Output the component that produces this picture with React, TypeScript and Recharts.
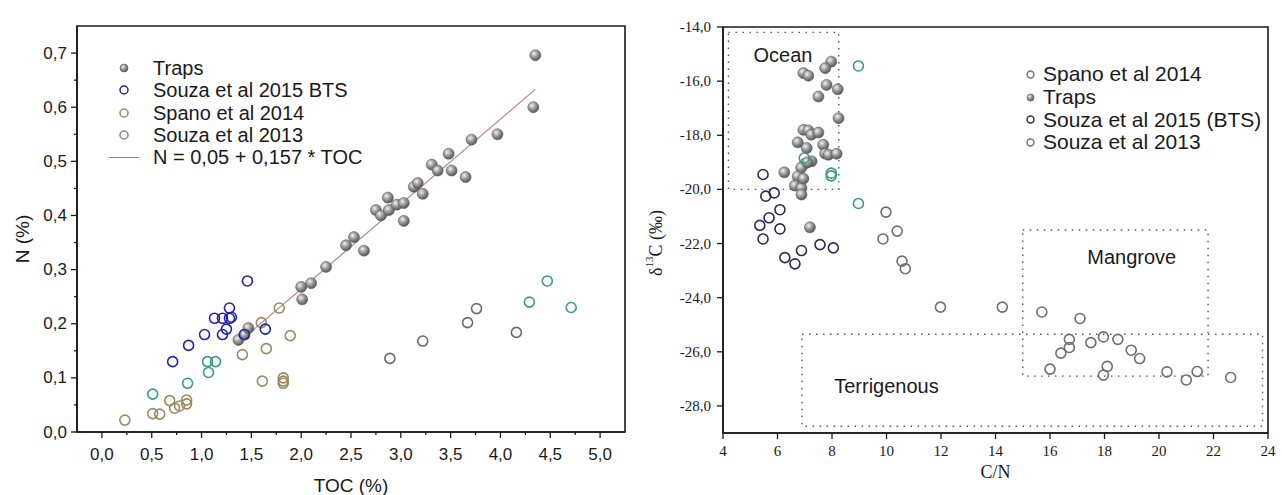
import React from "react";
import { ScatterChart, Scatter, XAxis, YAxis, ReferenceArea, Label } from "recharts";

// ---- left panel: N vs TOC ----
const tocMajor = [0, 0.5, 1, 1.5, 2, 2.5, 3, 3.5, 4, 4.5, 5];
const tocMinor = [0.25, 0.75, 1.25, 1.75, 2.25, 2.75, 3.25, 3.75, 4.25, 4.75];
const nMajor = [0, 0.1, 0.2, 0.3, 0.4, 0.5, 0.6, 0.7];
const nMinor = [0.05, 0.15, 0.25, 0.35, 0.45, 0.55, 0.65];

const trapsTocN = [
  [1.37, 0.17], [1.43, 0.18], [1.47, 0.192], [2.01, 0.245], [2.0, 0.268], [2.1, 0.275],
  [2.25, 0.305], [2.45, 0.345], [2.53, 0.36], [2.63, 0.335], [2.75, 0.41], [2.8, 0.4],
  [2.87, 0.433], [2.88, 0.41], [2.96, 0.42], [3.03, 0.423], [3.03, 0.39], [3.13, 0.453],
  [3.17, 0.46], [3.22, 0.44], [3.31, 0.494], [3.37, 0.483], [3.48, 0.514], [3.51, 0.483],
  [3.65, 0.471], [3.71, 0.54], [3.97, 0.55], [4.33, 0.6], [4.35, 0.696],
];
const souza2015TocN = [
  [1.46, 0.279], [1.28, 0.229], [1.13, 0.21], [1.21, 0.21], [1.28, 0.21], [1.3, 0.212],
  [1.25, 0.19], [1.21, 0.18], [1.03, 0.18], [1.43, 0.18], [1.64, 0.19], [0.87, 0.16], [0.71, 0.13],
];
const souza2013TocN = [
  [0.51, 0.07], [0.86, 0.09], [1.07, 0.11], [1.06, 0.13], [1.14, 0.13],
  [4.47, 0.279], [4.29, 0.24], [4.71, 0.23],
];
const spanoTocN = [
  [0.23, 0.022], [0.51, 0.034], [0.58, 0.033], [0.68, 0.058], [0.73, 0.044], [0.78, 0.048],
  [0.85, 0.059], [0.85, 0.052], [1.41, 0.143], [1.65, 0.154], [1.61, 0.094], [1.82, 0.1],
  [1.82, 0.094], [1.82, 0.09], [1.89, 0.178], [1.78, 0.229], [1.6, 0.202],
];
const spanoGrayTocN = [[2.89, 0.136], [3.22, 0.168], [3.67, 0.202], [3.76, 0.228], [4.16, 0.184]];

// regression as drawn (line passes ~0.63 at TOC 4.35)
const fitIntercept = -0.05;
const fitSlope = 0.157;
const fitRange = [1.38, 4.35];

// ---- right panel: d13C vs C/N ----
const cnTicks = [4, 6, 8, 10, 12, 14, 16, 18, 20, 22, 24];
const d13cTicks = [-28, -26, -24, -22, -20, -18, -16, -14];

const trapsCnD13c = [
  [7.97, -15.28], [7.75, -15.52], [6.95, -15.7], [7.13, -15.8], [7.8, -16.14], [8.21, -16.3],
  [7.5, -16.57], [8.24, -17.37], [6.95, -17.8], [7.13, -17.82], [7.24, -17.98], [7.5, -17.9],
  [6.74, -18.26], [7.07, -18.47], [7.68, -18.35], [7.75, -18.68], [7.87, -18.72], [8.17, -18.68],
  [7.25, -18.96], [7.0, -19.05], [6.87, -19.2], [6.25, -19.37], [6.74, -19.52], [6.64, -19.86],
  [6.88, -19.95], [6.88, -20.19], [7.19, -21.4], [7.1, -19.0], [6.95, -19.6],
];
const souza2013CnD13c = [[8.97, -15.44], [6.98, -18.84], [7.97, -19.4], [7.97, -19.5], [8.97, -20.52]];
const souza2015CnD13c = [
  [5.47, -19.45], [5.57, -20.25], [5.88, -20.13], [6.09, -20.75], [5.69, -21.05], [5.35, -21.33],
  [6.09, -21.46], [5.47, -21.83], [6.88, -22.26], [7.56, -22.04], [8.05, -22.16], [6.27, -22.52],
  [6.64, -22.75],
];
const spanoCnD13c = [
  [9.98, -20.84], [10.39, -21.54], [9.87, -21.83], [10.57, -22.65], [10.69, -22.93], [11.98, -24.35],
  [14.25, -24.35], [15.7, -24.53], [17.1, -24.77], [16.71, -25.54], [16.71, -25.84], [16.4, -26.05],
  [17.5, -25.66], [17.96, -25.45], [18.49, -25.54], [18.98, -25.94], [19.29, -26.25], [16.0, -26.64],
  [18.1, -26.54], [17.96, -26.86], [20.29, -26.74], [21.0, -27.04], [21.4, -26.73], [22.63, -26.95],
];

const regionBoxes = [
  { name: "Ocean", x1: 4.2, x2: 8.25, y1: -20, y2: -14.2 },
  { name: "Mangrove", x1: 15, x2: 21.8, y1: -26.9, y2: -21.5 },
  { name: "Terrigenous", x1: 6.9, x2: 23.8, y1: -28.75, y2: -25.35 },
];
const regionLabels = [
  { name: "Ocean", x: 6.2, y: -15.03 },
  { name: "Mangrove", x: 19.0, y: -22.48 },
  { name: "Terrigenous", x: 10.0, y: -27.27 },
];

const toPts = (arr: number[][]) => arr.map(([x, y]) => ({ x, y }));
const comma1 = (v: number) => v.toFixed(1).replace(".", ",");
const near = (list: number[], v: number) => list.some((t) => Math.abs(t - v) < 1e-6);

const SANS = "'Liberation Sans', Arial, sans-serif";
const SERIF = "'Liberation Serif', 'Times New Roman', serif";
const INK = "#1a1a1a";

const NAVY = "#2323a8";
const NAVY_R = "#2b2b55";
const TEAL = "#3a9a82";
const OLIVE = "#9a8a5e";
const GRAY = "#6a6a6a";

const sphere = (id: string, r = 5.5) => (p: any) =>
  <circle cx={p.cx} cy={p.cy} r={r} fill={`url(#${id})`} stroke="#5a5a5a" strokeWidth={0.6} />;
const ring = (color: string, r = 5) => (p: any) =>
  <circle cx={p.cx} cy={p.cy} r={r} fill="none" stroke={color} strokeWidth={1.6} />;

function SphereDefs({ id }: { id: string }) {
  return (
    <defs>
      <radialGradient id={id} cx="0.38" cy="0.35" r="0.7">
        <stop offset="0" stopColor="#f2f2f2" />
        <stop offset="0.45" stopColor="#9c9c9c" />
        <stop offset="1" stopColor="#4e4e4e" />
      </radialGradient>
    </defs>
  );
}

// ticks drawn by hand so minor ticks can be shorter and unlabeled
const bottomTick = (major: number[], fmt: (v: number) => string, font: string, size: number, gap: number) => (p: any) => {
  const v = p.payload.value;
  const isMajor = near(major, v);
  return (
    <g>
      <line x1={p.x} x2={p.x} y1={p.y} y2={p.y + (isMajor ? 6 : 3)} stroke={INK} strokeWidth={1.3} />
      {isMajor && (
        <text x={p.x} y={p.y + gap} textAnchor="middle" dominantBaseline="central" fontFamily={font} fontSize={size} fill={INK}>
          {fmt(v)}
        </text>
      )}
    </g>
  );
};
const leftTick = (major: number[], fmt: (v: number) => string, font: string, size: number, gap: number) => (p: any) => {
  const v = p.payload.value;
  const isMajor = near(major, v);
  return (
    <g>
      <line x1={p.x} x2={p.x - (isMajor ? 6 : 3)} y1={p.y} y2={p.y} stroke={INK} strokeWidth={1.3} />
      {isMajor && (
        <text x={p.x - gap} y={p.y} textAnchor="end" dominantBaseline="central" fontFamily={font} fontSize={size} fill={INK}>
          {fmt(v)}
        </text>
      )}
    </g>
  );
};

const regionText = (p: any) => (
  <text x={p.cx} y={p.cy} textAnchor="middle" dominantBaseline="central" fontFamily={SANS} fontSize={20} fill={INK}>
    {p.payload.name}
  </text>
);

function LegendDot({ kind, color, r }: { kind: string; color: string; r: number }) {
  return (
    <svg width={2 * r + 4} height={2 * r + 4} style={{ display: "block" }}>
      {kind === "sphere" ? (
        <circle cx={r + 2} cy={r + 2} r={r} fill="url(#sphereL)" stroke="#5a5a5a" strokeWidth={0.6} />
      ) : (
        <circle cx={r + 2} cy={r + 2} r={r} fill="none" stroke={color} strokeWidth={1.5} />
      )}
    </svg>
  );
}

const leftLegend = [
  { label: "Traps", kind: "sphere", color: GRAY },
  { label: "Souza et al 2015 BTS", kind: "ring", color: NAVY },
  { label: "Spano et al 2014", kind: "ring", color: OLIVE },
  { label: "Souza et al 2013", kind: "ring", color: "#8a8a8a" },
];
const rightLegend = [
  { label: "Spano et al 2014", kind: "ring", color: "#777" },
  { label: "Traps", kind: "sphere", color: GRAY },
  { label: "Souza et al 2015 (BTS)", kind: "ring", color: "#333" },
  { label: "Souza et al 2013", kind: "ring", color: "#777" },
];

export default function App() {
  const fitLine = fitRange.map((x) => ({ x, y: fitIntercept + fitSlope * x }));

  return (
    <div style={{ position: "absolute", left: 0, top: 0, width: 1282, height: 495, background: "#fff", overflow: "hidden" }}>
      {/* left chart */}
      <div style={{ position: "absolute", left: 0, top: 0 }}>
        <ScatterChart width={640} height={495} margin={{ top: 26, right: 15, bottom: 0, left: 0 }}>
          <SphereDefs id="sphereL" />
          <XAxis
            type="number" dataKey="x" domain={[-0.25, 5.25]} ticks={[...tocMajor, ...tocMinor].sort((a, b) => a - b)}
            interval={0} height={63} tickSize={0} tickMargin={0} tickLine={false}
            axisLine={{ stroke: INK, strokeWidth: 1.6 }}
            tick={bottomTick(tocMajor, comma1, SANS, 17, 22)}
          >
            <Label content={(p: any) => (
              <text x={p.viewBox.x + p.viewBox.width / 2} y={p.viewBox.y + 53} textAnchor="middle" dominantBaseline="central" fontFamily={SANS} fontSize={19} fill={INK}>TOC (%)</text>
            )} />
          </XAxis>
          <YAxis
            type="number" dataKey="y" domain={[0, 0.75]} ticks={[...nMajor, ...nMinor].sort((a, b) => a - b)}
            interval={0} width={77} tickSize={0} tickMargin={0} tickLine={false}
            axisLine={{ stroke: INK, strokeWidth: 1.6 }}
            tick={leftTick(nMajor, comma1, SANS, 17, 10)}
          >
            <Label content={(p: any) => {
              const cx = p.viewBox.x + 22;
              const cy = p.viewBox.y + p.viewBox.height / 2 + 10;
              return <text x={cx} y={cy} transform={`rotate(-90 ${cx} ${cy})`} textAnchor="middle" dominantBaseline="central" fontFamily={SANS} fontSize={19} fill={INK}>N (%)</text>;
            }} />
          </YAxis>
          <ReferenceArea x1={-0.25} x2={5.25} y1={0} y2={0.75} fill="none" stroke={INK} strokeWidth={1.6} />
          <Scatter data={fitLine} line={{ stroke: "#c27e8c", strokeWidth: 1.2 }} shape={() => <g />} isAnimationActive={false} />
          <Scatter name="Spano et al 2014" data={toPts(spanoTocN)} shape={ring(OLIVE)} isAnimationActive={false} />
          <Scatter name="Spano et al 2014" data={toPts(spanoGrayTocN)} shape={ring(GRAY)} isAnimationActive={false} />
          <Scatter name="Souza et al 2013" data={toPts(souza2013TocN)} shape={ring(TEAL)} isAnimationActive={false} />
          <Scatter name="Traps" data={toPts(trapsTocN)} shape={sphere("sphereL")} isAnimationActive={false} />
          <Scatter name="Souza et al 2015 BTS" data={toPts(souza2015TocN)} shape={ring(NAVY)} isAnimationActive={false} />
        </ScatterChart>
        <div style={{ position: "absolute", left: 108, top: 57, fontFamily: SANS, fontSize: 20, color: INK, lineHeight: "22.3px" }}>
          {leftLegend.map((it) => (
            <div key={it.label} style={{ display: "flex", alignItems: "center", height: 22.3 }}>
              <div style={{ width: 32, display: "flex", justifyContent: "center" }}>
                <LegendDot kind={it.kind} color={it.color} r={4} />
              </div>
              <span style={{ marginLeft: 13 }}>{it.label}</span>
            </div>
          ))}
          <div style={{ display: "flex", alignItems: "center", height: 22.3 }}>
            <div style={{ width: 32, display: "flex", justifyContent: "center" }}>
              <div style={{ width: 30, height: 1.3, background: "#8a8a8a" }} />
            </div>
            <span style={{ marginLeft: 13 }}>N = 0,05 + 0,157 * TOC</span>
          </div>
        </div>
      </div>

      {/* right chart */}
      <div style={{ position: "absolute", left: 640, top: 0 }}>
        <ScatterChart width={642} height={495} margin={{ top: 27, right: 14, bottom: 0, left: 0 }}>
          <SphereDefs id="sphereR" />
          <XAxis
            type="number" dataKey="x" domain={[4, 24]} ticks={cnTicks}
            interval={0} height={62} tickSize={0} tickMargin={0} tickLine={false}
            axisLine={{ stroke: INK, strokeWidth: 1.6 }}
            tick={bottomTick(cnTicks, (v) => String(v), SERIF, 15, 18)}
          >
            <Label content={(p: any) => (
              <text x={p.viewBox.x + p.viewBox.width / 2} y={p.viewBox.y + 39} textAnchor="middle" dominantBaseline="central" fontFamily={SERIF} fontSize={18} fill={INK}>C/N</text>
            )} />
          </XAxis>
          <YAxis
            type="number" dataKey="y" domain={[-29, -14]} ticks={d13cTicks}
            interval={0} width={83} tickSize={0} tickMargin={0} tickLine={false}
            axisLine={{ stroke: INK, strokeWidth: 1.6 }}
            tick={leftTick(d13cTicks, comma1, SERIF, 15, 12)}
          >
            <Label content={(p: any) => {
              const cx = p.viewBox.x + 16;
              const cy = p.viewBox.y + p.viewBox.height / 2 + 13;
              return (
                <text x={cx} y={cy} transform={`rotate(-90 ${cx} ${cy})`} textAnchor="middle" dominantBaseline="central" fontFamily={SERIF} fontSize={18} fill={INK}>
                  δ<tspan dy={-7} fontSize={11}>13</tspan><tspan dy={7}>C (‰)</tspan>
                </text>
              );
            }} />
          </YAxis>
          <ReferenceArea x1={4} x2={24} y1={-29} y2={-14} fill="none" stroke={INK} strokeWidth={1.6} />
          {regionBoxes.map((b) => (
            <ReferenceArea key={b.name} x1={b.x1} x2={b.x2} y1={b.y1} y2={b.y2} fill="none" stroke="#555" strokeWidth={1.4} strokeDasharray="1.5 5.5" />
          ))}
          <Scatter data={regionLabels} shape={regionText} isAnimationActive={false} />
          <Scatter name="Spano et al 2014" data={toPts(spanoCnD13c)} shape={ring("#6e6e6e")} isAnimationActive={false} />
          <Scatter name="Souza et al 2015 (BTS)" data={toPts(souza2015CnD13c)} shape={ring(NAVY_R)} isAnimationActive={false} />
          <Scatter name="Traps" data={toPts(trapsCnD13c)} shape={sphere("sphereR")} isAnimationActive={false} />
          <Scatter name="Souza et al 2013" data={toPts(souza2013CnD13c)} shape={ring(TEAL)} isAnimationActive={false} />
        </ScatterChart>
        <div style={{ position: "absolute", left: 381, top: 63, fontFamily: SANS, fontSize: 21, color: INK }}>
          {rightLegend.map((it) => (
            <div key={it.label} style={{ display: "flex", alignItems: "center", height: 22.7 }}>
              <div style={{ width: 18, display: "flex", justifyContent: "center" }}>
                <LegendDot kind={it.kind} color={it.color} r={3.5} />
              </div>
              <span style={{ marginLeft: 4 }}>{it.label}</span>
            </div>
          ))}
        </div>
      </div>
    </div>
  );
}
